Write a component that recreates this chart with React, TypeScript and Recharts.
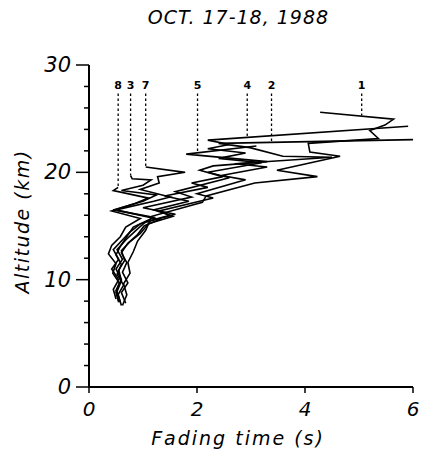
import { ScatterChart, Scatter, XAxis, YAxis } from 'recharts'

// fading time (s) vs altitude (km), radar profiles of Oct 17-18 1988
const xTicks = [0, 2, 4, 6]
const yTicks = [0, 2, 4, 6, 8, 10, 12, 14, 16, 18, 20, 22, 24, 26, 28, 30]
const yMajor = [0, 10, 20, 30]

const profile1: [number, number][] = [
  [0.62, 7.6], [0.7, 8.6], [0.64, 9.6], [0.76, 10.6], [0.72, 11.6], [0.82, 12.6],
  [0.9, 13.6], [1.05, 14.6], [1.16, 15.9], [2.1, 17.2], [2.17, 17.8], [3.07, 19.0],
  [4.23, 19.6], [3.48, 20.2], [4.65, 21.5], [4.09, 21.9], [4.06, 22.7], [5.36, 23.15],
  [5.2, 23.9], [5.48, 24.4], [5.64, 24.95], [4.28, 25.6],
]
const profile2: [number, number][] = [
  [0.58, 7.9], [0.52, 8.9], [0.6, 9.9], [0.55, 10.9], [0.66, 11.8], [0.6, 12.7],
  [0.75, 13.5], [0.95, 14.3], [1.1, 15.2], [1.55, 15.9], [1.3, 16.4], [2.3, 17.6],
  [2.0, 18.0], [2.9, 19.3], [2.45, 19.7], [3.3, 20.5], [2.7, 20.8], [4.5, 21.4],
  [3.59, 21.5], [2.98, 22.3], [2.4, 22.7], [6.0, 23.05],
]
const profile4: [number, number][] = [
  [0.5, 8.2], [0.45, 9.1], [0.55, 10.0], [0.42, 11.0], [0.55, 11.9], [0.45, 12.8],
  [0.6, 13.6], [0.75, 14.4], [0.95, 15.2], [1.6, 16.1], [1.0, 16.7], [1.9, 17.7],
  [1.6, 18.2], [2.6, 19.5], [2.2, 20.0], [3.2, 20.9], [2.4, 21.3], [2.9, 21.8],
  [2.2, 22.2], [2.6, 22.6], [2.2, 23.0], [5.91, 24.3],
]
const profile5: [number, number][] = [
  [0.55, 8.0], [0.5, 9.0], [0.6, 10.0], [0.5, 11.0], [0.62, 11.9], [0.52, 12.8],
  [0.68, 13.7], [0.85, 14.5], [1.05, 15.4], [1.5, 16.0], [1.2, 16.5], [1.85, 17.3],
  [1.4, 17.8], [2.2, 18.6], [1.9, 19.0], [2.48, 19.6], [2.05, 20.2], [2.3, 20.6],
  [3.3, 21.0], [1.8, 21.7], [3.1, 22.45],
]
const profile7: [number, number][] = [
  [0.68, 7.8], [0.6, 8.8], [0.72, 9.7], [0.62, 10.7], [0.7, 11.6], [0.6, 12.5],
  [0.72, 13.4], [0.9, 14.2], [1.02, 15.0], [1.3, 15.6], [0.5, 16.5], [1.2, 17.3],
  [1.5, 17.7], [0.95, 18.4], [1.3, 19.0], [1.27, 19.6], [1.78, 20.0], [1.05, 20.5],
]
const profile3: [number, number][] = [
  [0.6, 7.6], [0.54, 8.6], [0.64, 9.5], [0.52, 10.5], [0.6, 11.4], [0.5, 12.3],
  [0.58, 13.1], [0.7, 14.0], [0.82, 14.9], [1.2, 15.8], [0.45, 16.5], [1.0, 17.3],
  [1.25, 17.9], [0.6, 18.3], [1.0, 18.8], [1.15, 19.3], [0.8, 19.4], [0.77, 19.7],
]
const profile8: [number, number][] = [
  [0.55, 7.9], [0.5, 8.8], [0.56, 9.7], [0.44, 10.6], [0.5, 11.5], [0.36, 12.4],
  [0.42, 13.2], [0.58, 14.0], [0.68, 14.9], [0.95, 15.7], [0.42, 16.4], [0.85, 17.1],
  [1.1, 17.6], [0.45, 18.3], [0.54, 18.6],
]

const profiles = [profile1, profile2, profile4, profile5, profile7, profile3, profile8]

// curve numbers at the top, with dotted leaders down to each curve
const labelNames = ['1', '2', '4', '5', '7', '3', '8']
const labelTimes = [5.05, 3.38, 2.93, 2.01, 1.05, 0.77, 0.54]
const leaderEnds = [25.3, 22.8, 23.3, 21.85, 20.5, 19.7, 18.6]
const labelAlt = 28.1
const leaderTop = 27.35

const font = '"DejaVu Sans", sans-serif'

const toPoints = (p: [number, number][]) => p.map(([t, alt]) => ({ t, alt }))

const AltTick = (props: any) => {
  const { x, y, payload } = props
  const major = yMajor.includes(payload.value)
  const len = major ? 13 : 5
  return (
    <g>
      <line x1={x - len} x2={x} y1={y} y2={y} stroke="#000" strokeWidth={1.5} />
      {major && (
        <text x={x - len - 5} y={y} textAnchor="end" dominantBaseline="central"
          fontFamily={font} fontStyle="italic" fontSize={21} fill="#000">
          {payload.value}
        </text>
      )}
    </g>
  )
}

const NumberLabel = (props: any) => (
  <text x={props.cx} y={props.cy} textAnchor="middle" dominantBaseline="central"
    fontFamily={font} fontWeight="bold" fontSize={11} fill="#000">
    {props.payload.name}
  </text>
)

export default function App() {
  const W = 420
  const H = 445
  const labelPoints = labelNames.map((name, i) => ({ t: labelTimes[i], alt: labelAlt, name }))
  return (
    <div style={{ position: 'relative', width: W, height: H, background: '#fff' }}>
      <ScatterChart width={W} height={H} margin={{ top: 57, right: 15, bottom: 6, left: 0 }}>
        <XAxis type="number" dataKey="t" domain={[0, 6]} ticks={xTicks} interval={0}
          height={60} tickSize={6} tickMargin={9}
          axisLine={{ stroke: '#000', strokeWidth: 2 }} tickLine={{ stroke: '#000', strokeWidth: 1.5 }}
          tick={{ fontSize: 20, fontStyle: 'italic', fontFamily: font, fill: '#000' }} />
        <YAxis type="number" dataKey="alt" domain={[0, 30]} ticks={yTicks} interval={0}
          width={81} tickSize={0} tickMargin={0} tickLine={false}
          axisLine={{ stroke: '#000', strokeWidth: 2 }} tick={<AltTick />} />
        {profiles.map((p, i) => (
          <Scatter key={'p' + i} data={toPoints(p)} isAnimationActive={false}
            line={{ stroke: '#000', strokeWidth: 1.6, fill: 'none' }} shape={() => <g />} />
        ))}
        {labelNames.map((n, i) => (
          <Scatter key={'l' + n}
            data={[{ t: labelTimes[i], alt: leaderTop }, { t: labelTimes[i], alt: leaderEnds[i] }]}
            isAnimationActive={false}
            line={{ stroke: '#000', strokeWidth: 1.3, strokeDasharray: '2.5 2.5', fill: 'none' }}
            shape={() => <g />} />
        ))}
        <Scatter data={labelPoints} isAnimationActive={false} shape={<NumberLabel />} />
      </ScatterChart>
      <svg width={428} height={453}
        style={{ position: 'absolute', left: -8, top: -8, pointerEvents: 'none', overflow: 'visible' }}>
        <text x={238.5} y={24} textAnchor="middle" fontFamily={font} fontStyle="italic"
          fontSize={19} letterSpacing={1} fill="#000">OCT.  17-18,  1988</text>
        <text x={238} y={445} textAnchor="middle" fontFamily={font} fontStyle="italic"
          fontSize={19} letterSpacing={2} fill="#000">Fading time (s)</text>
        <text x={0} y={0} transform="translate(29,221.5) rotate(-90)" textAnchor="middle"
          fontFamily={font} fontStyle="italic" fontSize={19} letterSpacing={1.5} fill="#000">
          Altitude (km)
        </text>
      </svg>
    </div>
  )
}
